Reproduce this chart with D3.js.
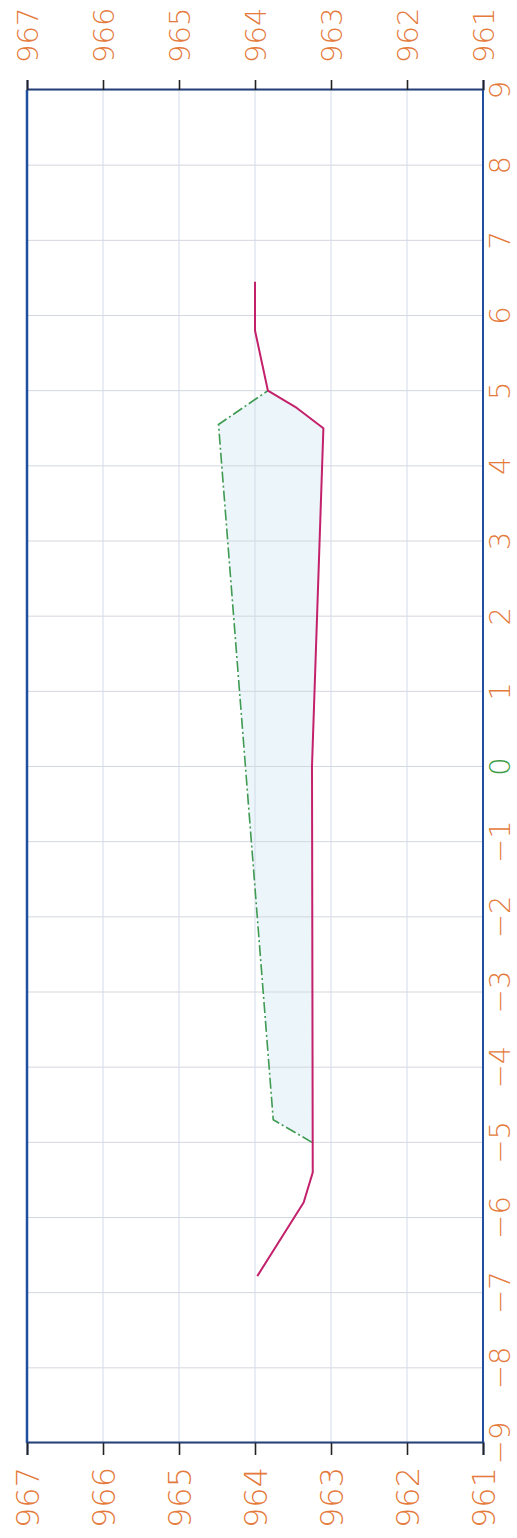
<!DOCTYPE html>
<html>
<head>
<meta charset="utf-8">
<script src="https://cdn.jsdelivr.net/npm/d3@7"></script>
<style>
  html, body { margin: 0; padding: 0; background: #ffffff; }
  svg { display: block; }
</style>
</head>
<body>
<svg id="chart" width="517" height="1538"></svg>
<script>
// ---- data (offset in m, elevation in m) ----
const offsetTicks = [-9,-8,-7,-6,-5,-4,-3,-2,-1,0,1,2,3,4,5,6,7,8,9];
const elevTicks = [961,962,963,964,965,966,967];

// existing ground line (magenta)
const groundOffset = [-6.78, -5.8, -5.4, 0.0, 4.5, 4.77, 5.0, 5.8, 6.45];
const groundElev   = [963.97, 963.36, 963.24, 963.25, 963.10, 963.45, 963.83, 964.0, 964.0];

// design line (green dash-dot)
const designOffset = [-5.0, -4.7, 4.55, 5.0];
const designElev   = [963.25, 963.76, 964.48, 963.83];

// fill region between design and ground (-5 .. 5)
const fillOffset = [-5.0, -4.7, 4.55, 5.0, 4.77, 4.5, 0.0, -5.0];
const fillElev   = [963.25, 963.76, 964.48, 963.83, 963.45, 963.10, 963.25, 963.25];

const W = 517, H = 1538;
const svg = d3.select("#chart");

// The chart is drawn in a local frame and rotated -90deg onto the page.
const g = svg.append("g").attr("transform", `translate(0,${H}) rotate(-90)`);

const x = d3.scaleLinear().domain([-9, 9]).range([95, 1448]);
const y = d3.scaleLinear().domain([961, 967]).range([483, 27]);

const fmt = v => (v < 0 ? "\u2212" + Math.abs(v) : String(v));
const font = "'DejaVu Sans', 'Liberation Sans', sans-serif";

// fill
const pts = (xs, ys) => xs.map((v, i) => [x(v), y(ys[i])]);
g.append("path")
  .attr("d", d3.line()(pts(fillOffset, fillElev)) + "Z")
  .attr("fill", "#ebf5fa")
  .attr("stroke", "none");

// grid
g.append("g").selectAll("line").data(offsetTicks).join("line")
  .attr("x1", d => x(d)).attr("x2", d => x(d))
  .attr("y1", y(961)).attr("y2", y(967))
  .attr("stroke", "#d3d7df").attr("stroke-width", 1);
g.append("g").selectAll("line").data(elevTicks).join("line")
  .attr("x1", x(-9)).attr("x2", x(9))
  .attr("y1", d => y(d)).attr("y2", d => y(d))
  .attr("stroke", "#d3dae8").attr("stroke-width", 1);

// frame: long sides blue
g.append("line").attr("x1", x(-9)).attr("x2", x(9)).attr("y1", y(961)).attr("y2", y(961))
  .attr("stroke", "#1f4f9e").attr("stroke-width", 2);
g.append("line").attr("x1", x(-9)).attr("x2", x(9)).attr("y1", y(967)).attr("y2", y(967))
  .attr("stroke", "#1f4f9e").attr("stroke-width", 2.5);

// elevation axes (left and right of local frame) with outward ticks
const axL = d3.axisLeft(y).tickValues(elevTicks).tickSize(12).tickFormat("");
const axR = d3.axisRight(y).tickValues(elevTicks).tickSize(10).tickFormat("");
const gL = g.append("g").attr("transform", `translate(${x(-9)},0)`).call(axL);
const gR = g.append("g").attr("transform", `translate(${x(9)},0)`).call(axR);
[gL, gR].forEach(a => {
  a.select(".domain").attr("stroke", "#26407a").attr("stroke-width", 2);
  a.selectAll(".tick line").attr("stroke", "#222").attr("stroke-width", 1.6);
});

// elevation labels
g.append("g").selectAll("text").data(elevTicks).join("text")
  .attr("x", 71).attr("y", d => y(d) + 11.5)
  .attr("text-anchor", "end")
  .attr("font-family", font).attr("font-size", 32).attr("font-weight", 200)
  .attr("fill", "#e47a3c")
  .text(d => d);
g.append("g").selectAll("text").data(elevTicks).join("text")
  .attr("x", 1475).attr("y", d => y(d) + 10.5)
  .attr("text-anchor", "start")
  .attr("font-family", font).attr("font-size", 29).attr("font-weight", 200)
  .attr("fill", "#e47a3c")
  .text(d => d);

// offset labels
g.append("g").selectAll("text").data(offsetTicks).join("text")
  .attr("x", d => x(d)).attr("y", 510)
  .attr("text-anchor", "middle")
  .attr("font-family", font).attr("font-size", 29).attr("font-weight", 200)
  .attr("fill", d => d === 0 ? "#3c9c44" : "#e47a3c")
  .text(fmt);

// design line
g.append("path")
  .attr("d", d3.line()(pts(designOffset, designElev)))
  .attr("fill", "none").attr("stroke", "#3f9a52").attr("stroke-width", 1.6)
  .attr("stroke-dasharray", "11,3,2,3");

// ground line
g.append("path")
  .attr("d", d3.line()(pts(groundOffset, groundElev)))
  .attr("fill", "none").attr("stroke", "#c3216b").attr("stroke-width", 2)
  .attr("stroke-linejoin", "round");
</script>
</body>
</html>
